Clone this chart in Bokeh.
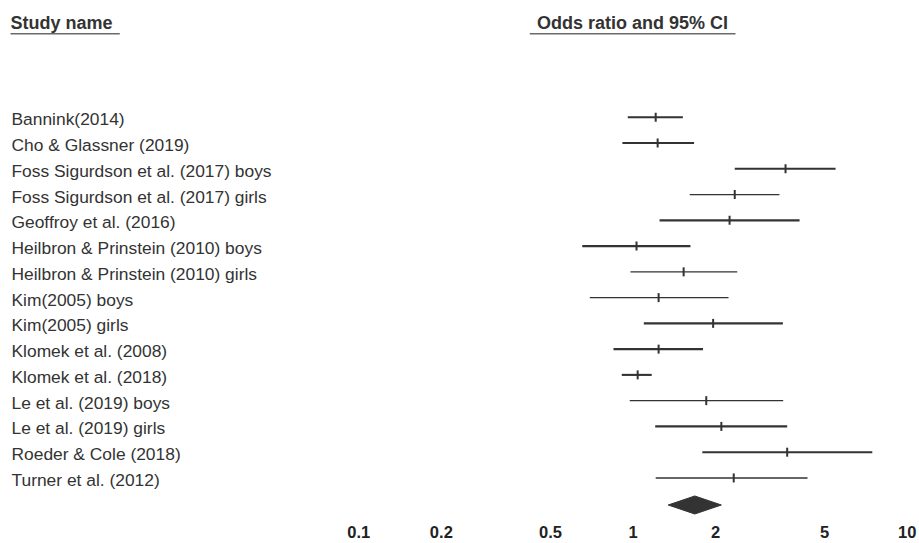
import math
from bokeh.plotting import figure
from bokeh.models import Range1d, ColumnDataSource
from bokeh.core.properties import value
from bokeh.embed import file_html
from bokeh.resources import INLINE

# ---------------- data ----------------
STUDIES = [
    "Bannink(2014)",
    "Cho & Glassner (2019)",
    "Foss Sigurdson et al. (2017) boys",
    "Foss Sigurdson et al. (2017) girls",
    "Geoffroy et al. (2016)",
    "Heilbron & Prinstein (2010) boys",
    "Heilbron & Prinstein (2010) girls",
    "Kim(2005) boys",
    "Kim(2005) girls",
    "Klomek et al. (2008)",
    "Klomek et al. (2018)",
    "Le et al. (2019) boys",
    "Le et al. (2019) girls",
    "Roeder & Cole (2018)",
    "Turner et al. (2012)",
]
ODDS_RATIO = [1.21, 1.23, 3.60, 2.35, 2.25, 1.03, 1.53, 1.24, 1.96, 1.24, 1.04, 1.85, 2.10, 3.65, 2.33]
LOWER = [0.957, 0.915, 2.35, 1.61, 1.25, 0.653, 0.979, 0.696, 1.095, 0.849, 0.91, 0.973, 1.205, 1.79, 1.21]
UPPER = [1.52, 1.67, 5.48, 3.42, 4.05, 1.62, 2.40, 2.23, 3.52, 1.80, 1.17, 3.53, 3.65, 7.46, 4.33]

SUMMARY_OR = 1.68
SUMMARY_LOWER = 1.344
SUMMARY_UPPER = 2.10

TICKS = [0.1, 0.2, 0.5, 1, 2, 5, 10]
TICK_LABELS = ["0.1", "0.2", "0.5", "1", "2", "5", "10"]

HEADER_LEFT = "Study name"
HEADER_RIGHT = "Odds ratio and 95% CI"

# ---------------- layout helpers (page pixel -> data coords) ----------------
PX_ONE = 632.5       # page x of OR = 1
PX_DECADE = 274.2    # page px per decade
PY_ROW0 = 116.8      # page y of first study row
PY_STEP = 25.76      # page px per row
W, H = 919, 543


def px_x(px):
    return 10 ** ((px - PX_ONE) / PX_DECADE)


def px_y(py):
    return (py - PY_ROW0) / PY_STEP


x_range = Range1d(px_x(0), px_x(W))
y_range = Range1d(px_y(H), px_y(0))

p = figure(width=W, height=H, x_axis_type="log",
           x_range=x_range, y_range=y_range,
           x_axis_location=None, y_axis_location=None,
           output_backend="svg", toolbar_location=None, min_border=0)
p.xgrid.visible = False
p.ygrid.visible = False
p.outline_line_color = None
p.background_fill_color = "white"
p.border_fill_color = "white"

FONT = value("Liberation Sans")
INK = "#333333"

rows = list(range(len(STUDIES)))
thin = {3, 6, 7, 11}
src = ColumnDataSource(dict(
    y=rows, orr=ODDS_RATIO, lo=LOWER, hi=UPPER, name=STUDIES,
    lw=[1.3 if i in thin else (1.6 if i == 14 else 2.1) for i in rows],
    lab_x=[px_x(11)] * len(rows),
    lab_y=[r + 0.08 for r in rows],
))

# confidence intervals
p.segment(x0="lo", x1="hi", y0="y", y1="y", source=src,
          line_color=INK, line_width="lw")
# point estimates (short vertical ticks)
p.scatter(x="orr", y="y", source=src, marker="dash", size=9, angle=math.pi / 2,
          line_color=INK, line_width=2)

# summary diamond
s = len(STUDIES)
p.patch(x=[SUMMARY_LOWER, SUMMARY_OR, SUMMARY_UPPER, SUMMARY_OR],
        y=[s + 0.05, s - 0.3, s + 0.05, s + 0.4],
        fill_color=INK, line_color=INK, line_width=1)

# study labels
p.text(x="lab_x", y="lab_y", text="name", source=src, text_font=FONT,
       text_font_size="17.4px", text_color=INK, text_align="left",
       text_baseline="middle")

# headers
p.text(x=[px_x(10), px_x(536.5)], y=[px_y(22.5)] * 2, text=[HEADER_LEFT, HEADER_RIGHT],
       text_font=FONT, text_font_size="18px", text_font_style="bold",
       text_color=INK, text_align="left", text_baseline="middle")
p.segment(x0=[px_x(10), px_x(529.3)], x1=[px_x(119.3), px_x(735)],
          y0=[px_y(33.3)] * 2, y1=[px_y(33.3)] * 2,
          line_color="#6a6a6a", line_width=1.6)

# x-axis tick labels on the log scale
p.text(x=TICKS, y=[px_y(531.5)] * len(TICKS), text=TICK_LABELS,
       text_font=FONT, text_font_size="16.5px", text_font_style="bold",
       text_color="#222222", text_align="center", text_baseline="middle")

open("out.html", "w").write(file_html(p, INLINE))
